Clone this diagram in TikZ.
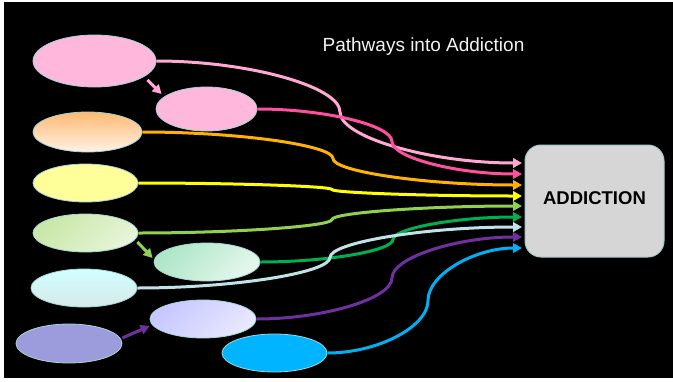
\documentclass[tikz,border=0pt]{standalone}
\usepackage{fontspec}
\setmainfont{Liberation Sans}
\usetikzlibrary{shapes.geometric,arrows.meta,calc}
\definecolor{rim}{HTML}{A6D6D6}
\definecolor{boxrim}{HTML}{A9C7C9}
\definecolor{boxgray}{HTML}{D6D6D6}
\definecolor{titlegray}{HTML}{F2F2F2}
\definecolor{blushfill}{HTML}{FFB7DB}
\definecolor{lemonfill}{HTML}{FFFF99}
\definecolor{irisfill}{HTML}{9C9CDC}
\definecolor{skyfill}{HTML}{00B4FF}
\definecolor{pinkline}{HTML}{FFA8D4}
\definecolor{roseline}{HTML}{FF4F9F}
\definecolor{amberline}{HTML}{FFB300}
\definecolor{lemonline}{HTML}{FFFF00}
\definecolor{limeline}{HTML}{92D050}
\definecolor{leafline}{HTML}{00B050}
\definecolor{frostline}{HTML}{BFE3E8}
\definecolor{plumline}{HTML}{7030A0}
\definecolor{skyline}{HTML}{00B0F0}
\begin{document}
\begin{tikzpicture}[x=1pt,y=-1pt,>={Triangle[length=9pt,width=9.5pt]},
  blob/.style={ellipse,draw=rim,line width=.8pt,inner sep=0pt,minimum width=106pt,minimum height=38pt},
  way/.style={->,line width=3pt},
  nudge/.style={->,line width=3pt}]
\useasboundingbox (0,0) rectangle (673,381);
\fill[white](0,0) rectangle (673,381);
\fill[black](4,2) rectangle (673,378);

\node[blob,fill=blushfill,minimum width=123pt,minimum height=52pt] (e1) at (94.5,61){};
\node[blob,fill=blushfill,minimum width=101pt,minimum height=44pt] (e2) at (206.5,109){};
\node[blob,top color=orange!55!white,bottom color=orange!10!white,minimum width=109pt,minimum height=40pt] (e3) at (87.5,132){};
\node[blob,fill=lemonfill,minimum width=105pt] (e4) at (85.5,183){};
\node[blob,top color=limeline!50!white,bottom color=limeline!22!white,shading angle=45,minimum width=105pt] (e5) at (85.5,233){};
\node[blob,top color=leafline!32!white,bottom color=leafline!10!white,shading angle=45] (e6) at (207,262){};
\node[blob,top color=cyan!18!white,bottom color=cyan!30!gray!25!white] (e7) at (84,288){};
\node[blob,top color=blue!22!white,bottom color=blue!9!white,shading angle=45] (e8) at (203,319){};
\node[blob,fill=irisfill,minimum height=39pt] (e9) at (69,343.5){};
\node[blob,fill=skyfill,minimum width=105pt] (e10) at (274.5,353){};

\node[draw=boxrim,fill=boxgray,line width=1pt,rounded corners=16pt,minimum width=139pt,minimum height=112pt,
  text depth=6pt,font=\fontsize{18.5}{22}\selectfont\bfseries] (box) at (594.5,201){ADDICTION};
\foreach \i/\ty in {1/163,2/174,3/185,4/196,5/206,6/217,7/227,8/237,9/248}
  \coordinate (t\i) at (522,\ty);

\foreach \s/\t/\xm/\c in {e1/t1/340/pinkline,e2/t2/392/roseline,e3/t3/333/amberline,e4/t4/332/lemonline,
    e5/t5/332/limeline,e6/t6/393/leafline,e7/t7/330/frostline,e8/t8/392/plumline,e10/t9/428/skyline}
  \draw[way,\c] let \p1=(\s.east),\p2=(\t) in (\p1)
    .. controls ({(\x1+\xm pt)/2},\y1) and (\xm pt,{0.75*\y1+0.25*\y2}) .. (\xm pt,{0.5*\y1+0.5*\y2})
    .. controls (\xm pt,{0.25*\y1+0.75*\y2}) and ({(\x2+\xm pt)/2},\y2) .. (\p2);

\draw[nudge,pinkline]([shift={(-9,19)}]e1.east)--([shift={(6,-15)}]e2.west);
\draw[nudge,limeline]([shift={(-1,9)}]e5.east)--([shift={(-1,-4)}]e6.west);
\draw[nudge,plumline]([shift={(0,-5.5)}]e9.east)--([shift={(0,7)}]e8.west);

\node[text=titlegray,font=\fontsize{19}{23}\selectfont,anchor=base] (title) at (423.5,51){Pathways into Addiction};
\end{tikzpicture}
\end{document}
